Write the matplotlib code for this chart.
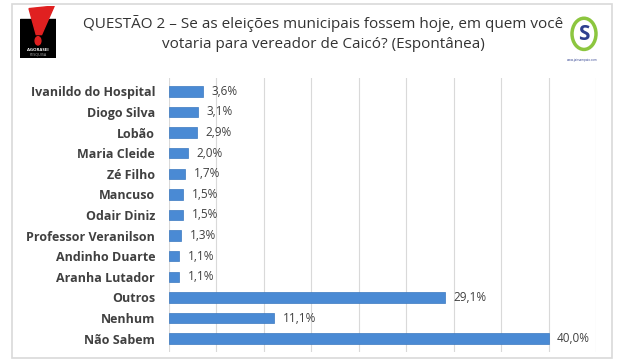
import matplotlib.pyplot as plt
from matplotlib.patches import Rectangle, Polygon, Circle

categories = [
    "Ivanildo do Hospital", "Diogo Silva", "Lobão", "Maria Cleide", "Zé Filho",
    "Mancuso", "Odair Diniz", "Professor Veranilson", "Andinho Duarte",
    "Aranha Lutador", "Outros", "Nenhum", "Não Sabem",
]
values = [3.6, 3.1, 2.9, 2.0, 1.7, 1.5, 1.5, 1.3, 1.1, 1.1, 29.1, 11.1, 40.0]
value_labels = ["3,6%", "3,1%", "2,9%", "2,0%", "1,7%", "1,5%", "1,5%", "1,3%",
                "1,1%", "1,1%", "29,1%", "11,1%", "40,0%"]
title = "QUESTÃO 2 – Se as eleições municipais fossem hoje, em quem você\nvotaria para vereador de Caicó? (Espontânea)"

plt.rcParams["font.family"] = ["Open Sans", "DejaVu Sans"]

fig = plt.figure(figsize=(6.3, 3.6), dpi=100)
fig.patch.set_facecolor("white")

# outer frame
fig.add_artist(Rectangle((12 / 630, 2 / 360), 600 / 630, 354 / 360, transform=fig.transFigure,
                         fill=False, edgecolor="#d9d9d9", lw=1.2))

ax = fig.add_axes([169 / 630, 8 / 360, (596 - 169) / 630, (282 - 8) / 360])
y = list(range(len(categories)))
ax.barh(y, values, height=0.5, color="#4a8ad4", edgecolor="#3a78c0", lw=0.5, zorder=3)
for yi, v, lab in zip(y, values, value_labels):
    ax.text(v + 0.9, yi, lab, va="center", ha="left", fontsize=8.5, color="#404040")
ax.set_yticks(y)
ax.set_yticklabels(categories, fontsize=9, fontweight="bold", color="#404040")
ax.invert_yaxis()
ax.set_ylim(len(categories) - 0.35, -0.65)
ax.set_xlim(0, 45)
ax.set_xticks(range(0, 46, 5))
ax.xaxis.grid(True, color="#d9d9d9", lw=0.8, zorder=0)
ax.tick_params(axis="x", length=0, labelbottom=False)
ax.tick_params(axis="y", length=0, pad=10)
for s in ax.spines.values():
    s.set_visible(False)

fig.text(0.513, 0.908, title, ha="center", va="center", fontsize=11,
         color="#333333", linespacing=1.45)

# left logo (approximation)
lax = fig.add_axes([20 / 630, 302 / 360, 36 / 630, 52 / 360])
lax.set_xlim(0, 1)
lax.set_ylim(0, 1)
lax.axis("off")
lax.add_patch(Rectangle((0, 0), 1, 0.75, color="black"))
lax.add_patch(Polygon([[0.25, 0.95], [0.95, 1.0], [0.6, 0.45], [0.45, 0.45]], color="#e02020"))
lax.add_patch(Circle((0.5, 0.33), 0.08, color="#e02020"))
lax.text(0.5, 0.16, "AGORASEI", ha="center", va="center", fontsize=3.2, color="white", fontweight="bold")
lax.text(0.5, 0.06, "PESQUISA", ha="center", va="center", fontsize=2.6, color="#bbbbbb")

# right logo (approximation)
rax = fig.add_axes([562 / 630, 296 / 360, 40 / 630, 52 / 360])
rax.set_xlim(0, 1)
rax.set_ylim(0, 1)
rax.axis("off")
rax.add_patch(Circle((0.55, 0.58), 0.3, fill=False, edgecolor="#8cc63f", lw=2.5))
rax.text(0.55, 0.56, "S", ha="center", va="center", fontsize=15, color="#2e3f8f", fontweight="bold")
rax.text(0.5, 0.08, "www.jairsampaio.com", ha="center", va="center", fontsize=2.2, color="#2e3f8f")

plt.savefig("out.png", dpi=100)
